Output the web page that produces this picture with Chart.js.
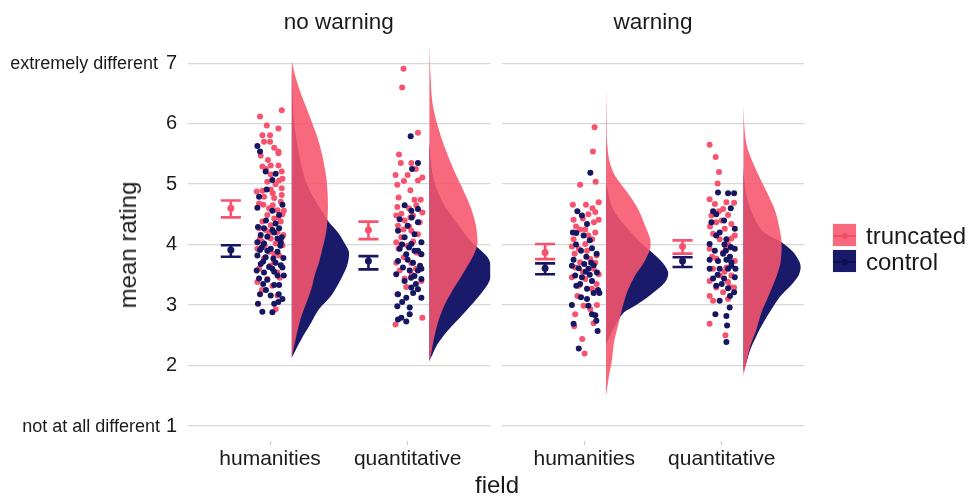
<!DOCTYPE html>
<html><head><meta charset="utf-8">
<script src="https://cdn.jsdelivr.net/npm/chart.js@4.4.1/dist/chart.umd.min.js"></script>
<style>
body{margin:0;background:#fff;font-family:"Liberation Sans",Arial,sans-serif;}
#wrap{position:relative;width:968px;height:497px;overflow:hidden;background:#fff;}
canvas{position:absolute;top:0;}
#cA{left:0;}
#cB{left:495px;}
.t{position:absolute;color:#1a1a1a;white-space:nowrap;line-height:1;}
.key{position:absolute;left:832px;width:25px;height:24px;box-sizing:border-box;border:1px solid #f4f4f4;}
.key i{position:absolute;left:0;right:0;top:11px;height:2px;}
.key b{position:absolute;left:9px;top:9px;width:6px;height:6px;border-radius:50%;}
</style></head><body>
<div id="wrap">
<canvas id="cA" width="495" height="497"></canvas>
<canvas id="cB" width="473" height="497"></canvas>
<div class="t" style="right:810px;top:54px;font-size:18px;">extremely different</div>
<div class="t" style="right:808px;top:417px;font-size:18px;">not at all different</div>
<div class="t" style="left:128px;top:245px;font-size:24px;transform:translate(-50%,-50%) rotate(-90deg);">mean rating</div>
<div class="t" style="left:497px;top:485px;font-size:24px;transform:translate(-50%,-50%);">field</div>
<div class="key" style="top:223px;background:rgba(248,84,108,0.88);"><i style="background:rgb(240,76,102)"></i><b style="background:rgb(240,76,102)"></b></div>
<div class="key" style="top:249px;background:rgb(26,26,107);"><i style="background:rgb(16,16,80)"></i><b style="background:rgb(16,16,80)"></b></div>
<div class="t" style="left:866px;top:236px;font-size:24px;transform:translateY(-50%);">truncated</div>
<div class="t" style="left:866px;top:262px;font-size:24px;transform:translateY(-50%);">control</div>
</div>
<script>
// ---------- data ----------
const panels = ['no warning', 'warning'];
const fields = ['humanities', 'quantitative'];
const yTicks = [1, 2, 3, 4, 5, 6, 7];

// mean ± SE per field (humanities, quantitative)
const noWarnTruncMean = [4.60, 4.24], noWarnTruncLo = [4.45, 4.09], noWarnTruncHi = [4.73, 4.38];
const noWarnCtrlMean  = [3.91, 3.73], noWarnCtrlLo  = [3.80, 3.59], noWarnCtrlHi  = [3.99, 3.81];
const warnTruncMean   = [3.87, 3.97], warnTruncLo   = [3.76, 3.85], warnTruncHi   = [4.01, 4.07];
const warnCtrlMean    = [3.61, 3.73], warnCtrlLo    = [3.51, 3.63], warnCtrlHi    = [3.69, 3.79];

// individual ratings: [rating, jitter]
const noWarnHumTrunc = [[6.22,.085],[6.12,-.073],[5.97,-.024],[5.92,.061],[5.81,-.056],[5.81,0],[5.70,-.044],[5.70,0],[5.54,.061],[5.51,.061],[5.47,-.068],[5.40,-.015],[5.29,-.056],[5.31,.005],[5.31,.061],[5.21,.085],[5.16,.005],[5.09,.09],[5.04,-.02],[5.06,.066],[4.88,-.097],[4.89,-.056],[4.91,.005],[4.93,.085],[4.82,.085],[4.79,-.044],[4.77,.03],[4.71,.078],[4.68,-.08],[4.66,-.049],[4.60,-.007],[4.57,.054],[4.56,.1],[4.49,-.02],[4.43,.03],[4.38,-.056],[4.38,.078],[4.32,.005],[4.24,-.032],[4.21,.054],[4.16,.097],[4.10,-.073],[4.10,.005],[3.99,-.039],[4.02,.041],[3.93,-.092],[3.88,-.007],[3.82,.066],[3.77,-.044],[3.71,.03],[3.60,-.08],[3.54,.054],[3.43,-.02],[3.38,-.092],[3.32,.017],[3.16,.054],[2.93,.041],[5.60,.03],[5.00,.04],[4.50,.09],[4.27,-.08],[3.99,.09],[4.85,.02],[4.45,.06],[4.05,-.06],[3.65,0],[3.45,.07],[5.25,-.03],[4.65,.02],[3.85,.03],[4.20,-.005],[3.25,-.06]];
const noWarnHumCtrl = [[5.63,-.092],[5.54,-.073],[5.21,-.032],[5.17,.041],[5.07,.017],[4.91,-.024],[4.79,-.08],[4.61,-.092],[4.56,.017],[4.49,.066],[4.66,.09],[4.29,-.088],[4.27,-.044],[4.24,.017],[4.27,.066],[4.16,-.068],[4.13,-.02],[4.10,.054],[4.04,-.092],[4.02,-.044],[4.04,.078],[3.91,-.073],[3.93,.005],[3.88,.054],[3.82,-.092],[3.79,-.032],[3.77,.024],[3.78,.097],[3.68,-.068],[3.63,-.007],[3.66,.078],[3.57,-.097],[3.54,-.044],[3.60,.017],[3.49,.054],[3.49,.1],[3.44,-.08],[3.42,-.02],[3.33,.03],[3.33,.066],[3.18,-.073],[3.16,.005],[3.18,.063],[3.02,-.088],[3.02,.03],[2.89,-.056],[2.88,.017],[3.70,.04],[3.95,-.06],[4.20,.03],[3.35,-.05],[3.10,.09],[4.40,-.03],[4.35,.04],[3.98,.075],[3.72,-.05],[3.55,.03],[3.25,-.03],[3.05,.06],[3.90,-.02],[4.12,.085],[3.62,.09]];
const noWarnQuantTrunc = [[6.91,-.03],[6.60,-.04],[5.85,.075],[5.49,-.063],[5.35,-.05],[5.35,.027],[5.15,-.088],[5.15,0],[5.11,.107],[4.99,-.075],[5.05,-.027],[5.06,.075],[4.78,-.066],[4.74,.05],[4.74,.095],[4.62,-.075],[4.65,.063],[4.51,-.046],[4.53,.107],[4.48,-.083],[4.48,.039],[4.40,-.022],[4.37,.088],[4.31,-.07],[4.23,.027],[4.17,.075],[4.12,-.046],[4.04,-.083],[3.98,0],[3.93,-.066],[3.87,.063],[3.79,-.027],[3.70,-.083],[3.69,.027],[3.57,-.058],[3.44,-.022],[3.40,.1],[3.18,-.075],[2.79,.107],[2.68,-.088],[4.30,.01],[4.90,.02],[3.60,.06],[4.05,.04],[4.25,-.03],[4.60,.01],[3.85,.09],[4.45,.02],[3.50,.03],[5.25,.06],[4.00,-.05],[3.30,-.01]];
const noWarnQuantCtrl = [[5.79,.022],[5.35,.075],[5.25,.032],[4.65,-.022],[4.56,.027],[4.59,.075],[4.42,-.058],[4.37,.075],[4.31,0],[4.23,-.07],[4.17,.05],[4.12,-.022],[4.04,.1],[4.01,.027],[3.93,-.058],[3.90,.075],[3.84,-.01],[3.84,.1],[3.73,-.07],[3.70,.039],[3.62,-.034],[3.57,.015],[3.57,.075],[3.51,-.083],[3.48,.05],[3.43,.1],[3.40,-.022],[3.29,.027],[3.18,-.07],[3.26,.075],[3.12,-.01],[3.12,.1],[2.98,-.075],[2.96,.015],[2.79,-.046],[2.85,.015],[2.76,-.07],[2.73,-.01],[3.65,.09],[3.95,.01],[3.35,.06],[4.00,-.04],[3.75,0],[3.45,.025],[3.60,.1],[3.90,.05],[3.20,.04],[4.45,.03],[3.05,-.04]];
const warnHumTrunc = [[5.94,.075],[5.54,.063],[5.04,.083],[4.99,-.03],[4.70,.105],[4.66,-.083],[4.66,.012],[4.60,.06],[4.54,.08],[4.41,-.078],[4.43,-.01],[4.37,.07],[4.41,.105],[4.25,-.03],[4.25,.007],[4.20,.08],[4.09,-.078],[4.09,.058],[4.01,.007],[3.97,-.09],[3.93,-.04],[3.82,.09],[3.76,.044],[3.71,-.03],[3.62,-.066],[3.60,.068],[3.51,.105],[3.46,-.09],[3.43,.007],[3.32,-.04],[3.27,.056],[3.00,.092],[2.99,-.005],[2.93,.044],[2.85,-.066],[2.70,.068],[2.65,-.073],[2.44,-.015],[2.20,.002],[3.85,-.07],[4.15,.03],[4.30,-.06],[3.90,.02],[3.55,-.01],[3.15,-.05],[4.50,.03],[3.70,.08],[3.35,.09]];
const warnHumCtrl = [[5.19,.044],[4.55,-.05],[4.48,-.017],[4.34,.02],[4.20,-.083],[4.19,-.058],[4.15,-.005],[4.07,.04],[3.94,.056],[3.90,-.024],[3.75,-.078],[3.68,0],[3.66,.068],[3.61,-.04],[3.60,.03],[3.54,.092],[3.49,-.066],[3.46,-.017],[3.40,.056],[3.32,-.058],[3.27,.02],[3.20,.068],[3.20,.11],[3.13,-.024],[3.00,-.09],[2.99,.03],[2.85,.056],[2.83,.08],[2.69,-.078],[2.74,.088],[2.57,.097],[2.28,-.04],[3.70,.05],[3.55,.01],[3.85,.09],[3.80,.015],[3.50,.04],[3.35,-.03],[4.00,-.06],[3.10,.02],[3.65,-.09],[3.25,.1]];
const warnQuantTrunc = [[5.65,-.088],[5.45,-.044],[5.20,-.02],[5.01,-.03],[4.75,-.088],[4.67,-.05],[4.70,.034],[4.69,.09],[4.59,.01],[4.48,-.075],[4.49,.046],[4.37,-.04],[4.34,.07],[4.26,.022],[4.18,-.063],[4.15,.095],[4.09,-.015],[4.01,.046],[3.93,-.088],[3.87,.01],[3.77,-.04],[3.73,.095],[3.60,-.063],[3.62,.034],[3.49,-.015],[3.49,.07],[3.40,-.088],[3.38,.046],[3.29,-.04],[3.29,.09],[3.15,-.088],[3.21,.01],[3.10,.046],[3.07,-.063],[2.69,-.088],[2.50,.027],[4.40,0],[3.95,.06],[4.55,-.02],[4.10,.07],[3.80,-.07],[3.55,.02],[3.95,.03],[4.30,-.085],[3.30,.06]];
const warnQuantCtrl = [[4.86,-.027],[4.85,.046],[4.85,.09],[4.60,.066],[4.55,-.063],[4.40,.017],[4.37,-.075],[4.26,.095],[4.15,-.04],[4.09,.034],[4.01,-.088],[3.96,.066],[3.90,-.05],[3.85,.01],[3.93,.095],[3.75,-.088],[3.73,-.027],[3.75,.034],[3.71,.07],[3.60,-.088],[3.60,-.015],[3.60,.046],[3.60,.1],[3.44,-.063],[3.44,.017],[3.46,.095],[3.32,-.04],[3.28,.046],[3.21,.09],[3.07,-.015],[2.96,.058],[2.85,-.046],[2.82,.034],[2.66,.039],[2.39,.034],[4.00,.02],[3.80,.06],[3.65,.07],[3.50,-.03],[3.90,.03],[4.20,-.015],[3.35,0],[4.50,-.04],[3.15,.06]];

// half-violin densities: [rating, relative density]
const densNoWarnHumTrunc = [[7.03,0],[6.85,2.5],[6.62,6.5],[6.35,12.5],[6.07,19],[5.8,25],[5.5,30],[5.15,34],[4.9,35.5],[4.6,36],[4.3,35],[4.1,33],[3.9,30],[3.7,27],[3.5,23],[3.3,20],[3.1,16],[2.95,12.5],[2.73,8],[2.45,4],[2.13,0]];
const densNoWarnHumCtrl = [[6.9,0],[6.62,0.5],[6.07,2],[5.51,7],[5.04,14],[4.77,22],[4.5,32],[4.37,37],[4.2,46],[3.98,54],[3.87,57],[3.65,55],[3.37,47],[3.15,39],[2.93,27],[2.7,19],[2.48,11],[2.26,4],[2.13,0]];
const densNoWarnQuantTrunc = [[7.3,0],[6.83,1],[6.28,3.7],[5.73,12.7],[5.17,26],[4.89,34],[4.62,41],[4.34,46],[4.06,48],[3.95,47],[3.79,43],[3.51,33],[3.24,23],[2.96,14],[2.68,8],[2.4,4],[2.12,1],[2.05,0]];
const densNoWarnQuantCtrl = [[5.7,0],[5.17,3],[4.89,8],[4.62,16],[4.34,28],[4.06,41],[3.95,48],[3.79,58],[3.62,62],[3.51,62],[3.34,58],[3.12,48],[2.84,33],[2.57,18],[2.35,8],[2.18,3],[2.08,0]];
const densWarnHumTrunc = [[6.6,0],[6.1,0.5],[5.7,1],[5.36,3.7],[5.14,9],[4.87,21],[4.59,32],[4.31,39],[4.09,44],[3.93,44],[3.71,38],[3.49,29],[3.21,21],[2.93,16],[2.66,12],[2.38,8],[2.1,6],[1.83,3],[1.55,0.5],[1.52,0]];
const densWarnHumCtrl = [[5.0,0],[4.59,7],[4.31,19],[4.04,34],[3.87,46],[3.71,56],[3.54,62],[3.38,59],[3.15,43],[2.99,29],[2.88,18],[2.71,11],[2.49,4],[2.35,0]];
const densWarnQuantTrunc = [[6.3,0],[5.92,1],[5.64,3.3],[5.36,9.3],[5.09,16.7],[4.81,25],[4.54,32],[4.26,36],[4.04,38],[3.71,37],[3.43,32],[3.15,25],[2.88,18],[2.6,13],[2.33,7],[2.05,3],[1.83,0]];
const densWarnQuantCtrl = [[5.3,0],[5.09,0.7],[4.81,3],[4.54,8],[4.26,17],[4.15,25],[4.04,38],[3.87,50],[3.71,56],[3.62,57],[3.49,55],[3.32,47],[3.15,37],[2.93,28],[2.71,20],[2.49,13],[2.27,7],[2.05,3],[1.9,0]];

// ---------- styling / layout ----------
const PINK = 'rgb(246,84,110)', PINK_FILL = 'rgba(248,84,108,0.88)';
const NAVY = 'rgb(22,22,98)', NAVY_FILL = 'rgb(26,26,107)';
const FONT = '"Liberation Sans", Arial, sans-serif';
const TXT = '#1a1a1a';
const EB_OFF = -0.285, CAP = 0.073, V_OFF = 0.158, JIT = 1, DENS_SCALE = 1 / 137;
const Y_MIN = 0.752, Y_MAX = 7.4;

function errData(c, mean, lo, hi) {
  const x = c + EB_OFF;
  return [{x: x - CAP, y: lo}, {x: x + CAP, y: lo}, {x: x, y: null},
          {x: x, y: lo}, {x: x, y: hi}, {x: x, y: null},
          {x: x - CAP, y: hi}, {x: x + CAP, y: hi}];
}
function ptsData(c, arr) { return arr.map(p => ({x: c + p[1] * JIT, y: p[0]})); }
function violinData(c, dens) { return dens.map(d => ({x: c + V_OFF + d[1] * DENS_SCALE, y: d[0]})); }

function buildDatasets(g) {
  const ds = [];
  [0, 1].forEach(i => {
    const c = i + 1;
    ds.push({type: 'line', data: errData(c, g.tm[i], g.tl[i], g.th[i]), borderColor: PINK, borderWidth: 2.6, pointRadius: 0, fill: false, tension: 0, spanGaps: false, order: 0});
    ds.push({type: 'line', data: errData(c, g.cm[i], g.cl[i], g.ch[i]), borderColor: NAVY, borderWidth: 2.6, pointRadius: 0, fill: false, tension: 0, spanGaps: false, order: 0});
    ds.push({type: 'scatter', data: [{x: c + EB_OFF, y: g.tm[i]}], backgroundColor: PINK, borderWidth: 0, pointRadius: 3.5, order: 0});
    ds.push({type: 'scatter', data: [{x: c + EB_OFF, y: g.cm[i]}], backgroundColor: NAVY, borderWidth: 0, pointRadius: 3.5, order: 0});
    ds.push({type: 'scatter', data: ptsData(c, g.cp[i]), backgroundColor: NAVY, borderWidth: 0, pointRadius: 3, order: 1});
    ds.push({type: 'scatter', data: ptsData(c, g.tp[i]), backgroundColor: PINK, borderWidth: 0, pointRadius: 3, order: 2});
    ds.push({type: 'line', data: violinData(c, g.td[i]), backgroundColor: PINK_FILL, borderWidth: 0, pointRadius: 0, fill: 'shape', tension: 0.3, order: 3});
    ds.push({type: 'line', data: violinData(c, g.cd[i]), backgroundColor: NAVY_FILL, borderWidth: 0, pointRadius: 0, fill: 'shape', tension: 0.3, order: 4});
  });
  return ds;
}

const titlePlugin = {
  id: 'panelTitle',
  afterDraw(chart, args, opts) {
    const ca = chart.chartArea, ctx = chart.ctx;
    ctx.save();
    ctx.font = '22.5px ' + FONT;
    ctx.fillStyle = TXT;
    ctx.textAlign = 'center';
    ctx.textBaseline = 'middle';
    ctx.fillText(opts.text, (ca.left + ca.right) / 2, 23);
    ctx.restore();
  }
};

function makeChart(id, title, g, leftW, rightPad, showY) {
  return new Chart(document.getElementById(id), {
    type: 'scatter',
    data: {datasets: buildDatasets(g)},
    plugins: [titlePlugin],
    options: {
      responsive: false, animation: false, events: [],
      layout: {padding: {top: 39, right: rightPad, bottom: 0, left: 0}},
      plugins: {legend: {display: false}, tooltip: {enabled: false}, panelTitle: {text: title}},
      scales: {
        x: {
          type: 'linear', min: 0.4, max: 2.6,
          afterBuildTicks: s => { s.ticks = [{value: 1}, {value: 2}]; },
          afterFit: s => { s.height = 56; },
          ticks: {callback: (v, i) => fields[i], font: {family: FONT, size: 21}, color: TXT, padding: 2, maxRotation: 0, autoSkip: false},
          grid: {drawOnChartArea: false, drawTicks: true, tickLength: 4, color: '#c8c8c8', lineWidth: 1},
          border: {display: false}
        },
        y: {
          type: 'linear', min: Y_MIN, max: Y_MAX,
          afterBuildTicks: s => { s.ticks = yTicks.map(v => ({value: v})); },
          afterFit: s => { s.width = leftW; },
          ticks: {display: showY, callback: v => String(v), font: {family: FONT, size: 20}, color: TXT, padding: 10.5},
          grid: {color: '#d7d7d7', lineWidth: 1.3, drawTicks: false},
          border: {display: false}
        }
      }
    }
  });
}

makeChart('cA', panels[0], {
  tm: noWarnTruncMean, tl: noWarnTruncLo, th: noWarnTruncHi,
  cm: noWarnCtrlMean, cl: noWarnCtrlLo, ch: noWarnCtrlHi,
  tp: [noWarnHumTrunc, noWarnQuantTrunc], cp: [noWarnHumCtrl, noWarnQuantCtrl],
  td: [densNoWarnHumTrunc, densNoWarnQuantTrunc], cd: [densNoWarnHumCtrl, densNoWarnQuantCtrl]
}, 187.5, 4.8, true);

makeChart('cB', panels[1], {
  tm: warnTruncMean, tl: warnTruncLo, th: warnTruncHi,
  cm: warnCtrlMean, cl: warnCtrlLo, ch: warnCtrlHi,
  tp: [warnHumTrunc, warnQuantTrunc], cp: [warnHumCtrl, warnQuantCtrl],
  td: [densWarnHumTrunc, densWarnQuantTrunc], cd: [densWarnHumCtrl, densWarnQuantCtrl]
}, 6.8, 163.8, false);
</script>
</body></html>
